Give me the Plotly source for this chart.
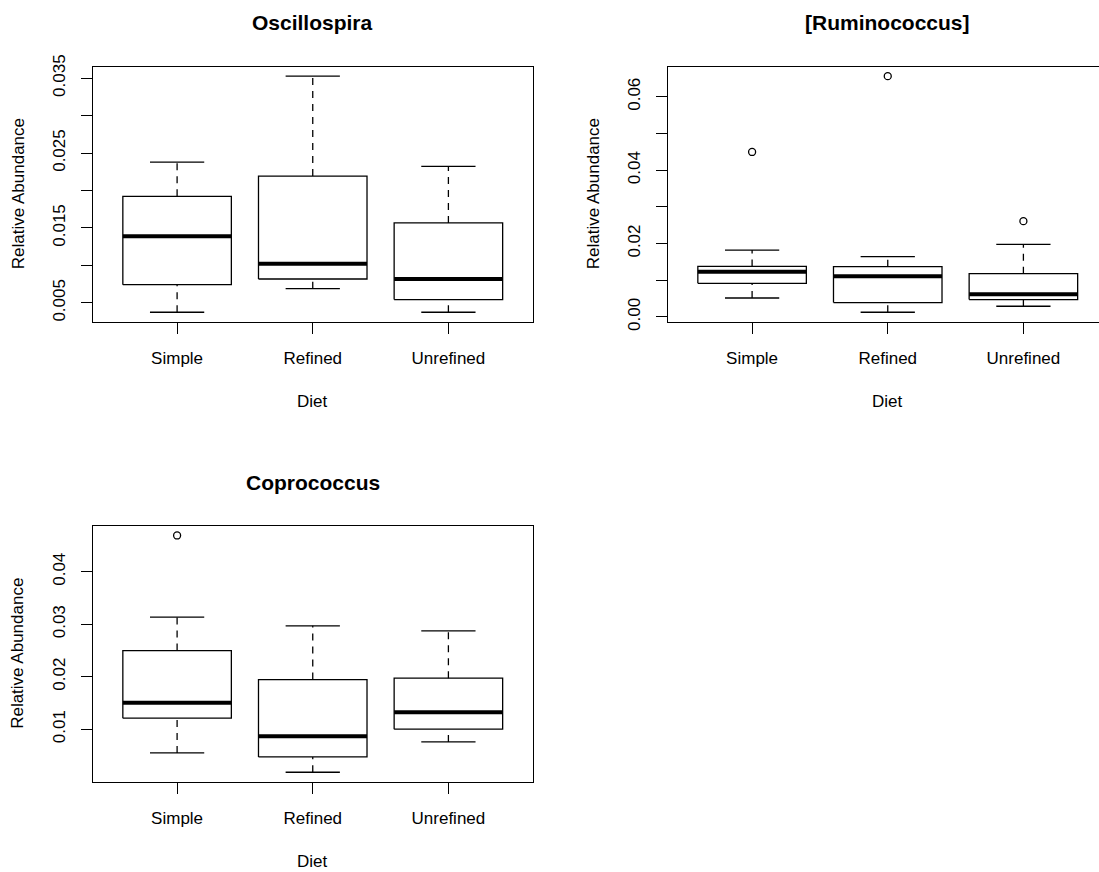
import plotly.graph_objects as go

# Diet groups shown on every panel
diets = ["Simple", "Refined", "Unrefined"]
positions = [1, 2, 3]

# Oscillospira: five-number summaries per diet
osc_low = [0.00375, 0.0069, 0.00375]
osc_q1 = [0.00743, 0.00819, 0.00544]
osc_med = [0.01391, 0.01023, 0.00819]
osc_q3 = [0.01923, 0.02193, 0.01568]
osc_high = [0.02379, 0.03527, 0.02322]
osc_out = [[], [], []]

# [Ruminococcus]
rum_low = [0.00517, 0.00128, 0.00291]
rum_q1 = [0.00916, 0.00392, 0.00473]
rum_med = [0.01234, 0.01107, 0.00617]
rum_q3 = [0.01378, 0.01370, 0.01180]
rum_high = [0.01822, 0.01642, 0.01977]
rum_out = [[0.04497], [0.06563], [0.02610]]

# Coprococcus
cop_low = [0.00548, 0.00180, 0.00758]
cop_q1 = [0.01210, 0.00472, 0.01000]
cop_med = [0.01502, 0.00867, 0.01324]
cop_q3 = [0.02499, 0.01946, 0.01973]
cop_high = [0.03136, 0.02970, 0.02875]
cop_out = [[0.04692], [], []]

# y-axis ticks and their labels (blank where labels would crowd)
osc_ticks = [0.005, 0.010, 0.015, 0.020, 0.025, 0.030, 0.035]
osc_labels = ["0.005", "", "0.015", "", "0.025", "", "0.035"]
rum_ticks = [0.00, 0.01, 0.02, 0.03, 0.04, 0.05, 0.06]
rum_labels = ["0.00", "", "0.02", "", "0.04", "", "0.06"]
cop_ticks = [0.01, 0.02, 0.03, 0.04]
cop_labels = ["0.01", "0.02", "0.03", "0.04"]

W, H = 1099, 872
FONT = "Liberation Sans, Arial, sans-serif"
LW = 1.3
BOX_HALF = 0.4
STAPLE_HALF = 0.2

fig = go.Figure()


def px_x(p):
    return p / W


def px_y(p):
    return 1 - p / H


def add_boxplot(xa, ya, low, q1, med, q3, high, outs):
    wx, wy, sx, sy, bx, by, mx, my, ox, oy = ([] for _ in range(10))
    for p, lo, a, m, b, hi, ol in zip(positions, low, q1, med, q3, high, outs):
        # dashed whiskers from box edges to the staples
        wx += [p, p, None, p, p, None]
        wy += [lo, a, None, b, hi, None]
        # staples
        sx += [p - STAPLE_HALF, p + STAPLE_HALF, None, p - STAPLE_HALF, p + STAPLE_HALF, None]
        sy += [lo, lo, None, hi, hi, None]
        # box outline
        bx += [p - BOX_HALF, p + BOX_HALF, p + BOX_HALF, p - BOX_HALF, p - BOX_HALF, None]
        by += [a, a, b, b, a, None]
        # median bar
        mx += [p - BOX_HALF, p + BOX_HALF, None]
        my += [m, m, None]
        for v in ol:
            ox.append(p)
            oy.append(v)
    common = dict(xaxis=xa, yaxis=ya, showlegend=False, hoverinfo="skip")
    fig.add_trace(go.Scatter(x=wx, y=wy, mode="lines",
                             line=dict(color="black", width=LW, dash="7px,6px"), **common))
    fig.add_trace(go.Scatter(x=sx, y=sy, mode="lines",
                             line=dict(color="black", width=LW), **common))
    fig.add_trace(go.Scatter(x=bx, y=by, mode="lines",
                             line=dict(color="black", width=LW), **common))
    fig.add_trace(go.Scatter(x=mx, y=my, mode="lines",
                             line=dict(color="black", width=4), **common))
    if ox:
        fig.add_trace(go.Scatter(x=ox, y=oy, mode="markers",
                                 marker=dict(symbol="circle-open", size=7,
                                             color="black", line=dict(width=LW)),
                                 **common))


def padded_range(low, high, outs):
    vals = list(low) + list(high) + [v for o in outs for v in o]
    lo, hi = min(vals), max(vals)
    span = hi - lo
    return [lo - 0.04 * span, hi + 0.04 * span]


add_boxplot("x", "y", osc_low, osc_q1, osc_med, osc_q3, osc_high, osc_out)
add_boxplot("x2", "y2", rum_low, rum_q1, rum_med, rum_q3, rum_high, rum_out)
add_boxplot("x3", "y3", cop_low, cop_q1, cop_med, cop_q3, cop_high, cop_out)

tickfont = dict(family=FONT, size=17, color="black")

# panel frames in pixels
left_a, right_a = 93, 532.5
unit = (right_a - left_a) / 3.24
left_b = 668
row1 = (66.7, 321.7)
row2 = (526.0, 781.7)

xcommon = dict(tickvals=positions, ticktext=diets, ticks="outside", ticklen=11,
               tickwidth=LW, tickcolor="black", showline=True, linecolor="black",
               linewidth=LW, showgrid=False, zeroline=False, tickfont=tickfont,
               ticklabelstandoff=10, automargin=False)
ycommon = dict(ticks="outside", ticklen=11, tickwidth=LW, tickcolor="black",
               showline=True, linecolor="black", linewidth=LW, showgrid=False,
               zeroline=False, tickfont=tickfont, tickangle=-90, ticklabelstandoff=9,
               automargin=False)

fig.update_layout(
    template="none",
    width=W, height=H, autosize=False,
    margin=dict(l=0, r=0, t=0, b=0, pad=0, autoexpand=False),
    paper_bgcolor="white", plot_bgcolor="white",
    xaxis=dict(domain=[px_x(left_a), px_x(right_a)], range=[0.38, 3.62],
               anchor="y", mirror=True, **xcommon),
    yaxis=dict(domain=[px_y(row1[1]), px_y(row1[0])],
               range=padded_range(osc_low, osc_high, osc_out),
               tickvals=osc_ticks, ticktext=osc_labels, anchor="x", mirror=True, **ycommon),
    xaxis2=dict(domain=[px_x(left_b), 1.0],
                range=[0.38, 0.38 + (W - left_b) / unit],
                anchor="y2", mirror=True, **xcommon),
    yaxis2=dict(domain=[px_y(row1[1]), px_y(row1[0])],
                range=padded_range(rum_low, rum_high, rum_out),
                tickvals=rum_ticks, ticktext=rum_labels, anchor="x2", **ycommon),
    xaxis3=dict(domain=[px_x(left_a), px_x(right_a)], range=[0.38, 3.62],
                anchor="y3", mirror=True, **xcommon),
    yaxis3=dict(domain=[px_y(row2[1]), px_y(row2[0])],
                range=padded_range(cop_low, cop_high, cop_out),
                tickvals=cop_ticks, ticktext=cop_labels, anchor="x3", mirror=True, **ycommon),
)

center_a = (left_a + right_a) / 2
center_b = left_b + 1.62 * unit
ann = []


def note(text, x, y, size=17, bold=False, angle=0):
    ann.append(dict(text=f"<b>{text}</b>" if bold else text,
                    x=px_x(x), y=px_y(y), xref="paper", yref="paper",
                    xanchor="center", yanchor="middle", showarrow=False,
                    textangle=angle, font=dict(family=FONT, size=size, color="black")))


note("Oscillospira", center_a, 23, size=21, bold=True)
note("[Ruminococcus]", center_b, 23, size=21, bold=True)
note("Coprococcus", center_a, 482.5, size=21, bold=True)
note("Diet", center_a, 401)
note("Diet", center_b, 401)
note("Diet", center_a, 861)
for xx, yy in [(18, sum(row1) / 2), (593, sum(row1) / 2), (18, sum(row2) / 2)]:
    note("Relative Abundance", xx, yy, angle=-90)

fig.update_layout(annotations=ann)
fig.write_html("out.html")
